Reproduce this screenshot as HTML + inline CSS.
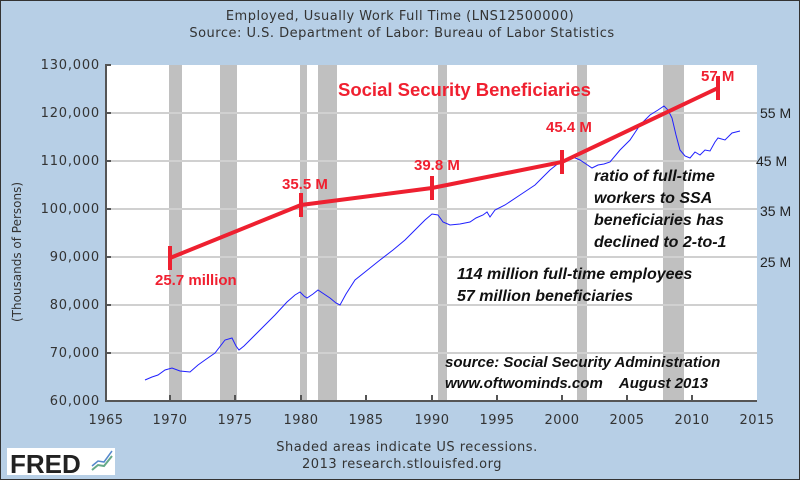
<!DOCTYPE html>
<html><head><meta charset="utf-8"><style>
body{margin:0;width:800px;height:480px;overflow:hidden;background:#b7cfe6}
svg{display:block}
.t{font-family:"DejaVu Sans",sans-serif;font-size:13px;fill:#333;letter-spacing:0.5px}
.a{font-family:"Liberation Sans",sans-serif;font-style:italic;font-weight:bold;font-size:16px;fill:#111}
.r{font-family:"Liberation Sans",sans-serif;font-weight:bold;fill:#f02030}
</style></head><body>
<svg width="800" height="480" viewBox="0 0 800 480">
<rect x="0.5" y="0.5" width="799" height="479" fill="#b7cfe6" stroke="#333"/>
<text class="t" x="400" y="20" text-anchor="middle">Employed, Usually Work Full Time (LNS12500000)</text>
<text class="t" x="402" y="37" text-anchor="middle">Source: U.S. Department of Labor: Bureau of Labor Statistics</text>
<rect x="106" y="65" width="651" height="336" fill="#fff"/>
<g fill="#c0c0c0">
<rect x="169" y="65" width="13" height="336"/><rect x="220" y="65" width="17" height="336"/>
<rect x="300" y="65" width="7" height="336"/><rect x="318" y="65" width="19" height="336"/>
<rect x="438" y="65" width="9" height="336"/><rect x="577" y="65" width="10" height="336"/>
<rect x="663" y="65" width="21" height="336"/>
</g>
<g stroke="#d0d0d0" stroke-width="2">
<line x1="106" y1="113" x2="757" y2="113"/><line x1="106" y1="161" x2="757" y2="161"/>
<line x1="106" y1="209" x2="757" y2="209"/><line x1="106" y1="257" x2="757" y2="257"/>
<line x1="106" y1="305" x2="757" y2="305"/><line x1="106" y1="353" x2="757" y2="353"/>
</g>
<g stroke="#555" stroke-width="2">
<line x1="106" y1="64" x2="106" y2="402"/><line x1="105" y1="401" x2="757" y2="401"/>
<line x1="106" y1="65" x2="111" y2="65"/><line x1="106" y1="113" x2="111" y2="113"/><line x1="106" y1="161" x2="111" y2="161"/><line x1="106" y1="209" x2="111" y2="209"/><line x1="106" y1="257" x2="111" y2="257"/><line x1="106" y1="305" x2="111" y2="305"/><line x1="106" y1="353" x2="111" y2="353"/>
<line x1="170" y1="395" x2="170" y2="401"/><line x1="235" y1="395" x2="235" y2="401"/><line x1="301" y1="395" x2="301" y2="401"/><line x1="366" y1="395" x2="366" y2="401"/><line x1="432" y1="395" x2="432" y2="401"/><line x1="497" y1="395" x2="497" y2="401"/><line x1="562" y1="395" x2="562" y2="401"/><line x1="627" y1="395" x2="627" y2="401"/><line x1="692" y1="395" x2="692" y2="401"/>
</g>
<g class="t" text-anchor="end" style="letter-spacing:0.8px">
<text x="100" y="69">130,000</text><text x="100" y="117">120,000</text><text x="100" y="165">110,000</text><text x="100" y="213">100,000</text><text x="100" y="261">90,000</text><text x="100" y="309">80,000</text><text x="100" y="357">70,000</text><text x="100" y="405">60,000</text>
</g>
<g class="t" text-anchor="middle">
<text x="106" y="424">1965</text><text x="170" y="424">1970</text><text x="235" y="424">1975</text><text x="301" y="424">1980</text><text x="366" y="424">1985</text><text x="432" y="424">1990</text><text x="497" y="424">1995</text><text x="562" y="424">2000</text><text x="627" y="424">2005</text><text x="692" y="424">2010</text><text x="757" y="424">2015</text>
</g>
<text class="t" transform="translate(21,252) rotate(-90)" text-anchor="middle" style="font-size:12px;letter-spacing:0">(Thousands of Persons)</text>
<text class="t" x="407" y="451" text-anchor="middle">Shaded areas indicate US recessions.</text>
<text class="t" x="402" y="468" text-anchor="middle">2013 research.stlouisfed.org</text>
<rect x="7" y="448" width="108" height="27" fill="#fff"/>
<text x="10" y="473" font-family="Liberation Sans,sans-serif" font-weight="bold" font-size="26" fill="#222">FRED</text>
<polyline points="92,470 98,465 104,466 112,456" fill="none" stroke="#6a8" stroke-width="2"/>
<polyline points="92,466 98,461 104,462 112,451" fill="none" stroke="#58c" stroke-width="1.5"/>
<polyline fill="none" stroke="#2020ff" stroke-width="1" points="145,380 152,377 158,375 165,370 172,368 180,371 190,372 198,365 205,360 215,353 225,340 232,338 236,346 239,350 244,346 250,340 262,328 275,315 287,302 295,295 300,292 304,296 307,298 313,294 318,290 324,294 330,298 336,303 340,305 346,294 355,280 365,272 380,260 393,250 405,240 415,230 425,220 432,214 438,215 443,222 450,225 460,224 470,222 476,218 483,215 487,212 490,217 495,210 505,205 520,195 535,185 550,170 560,162 568,158 573,157 580,160 586,164 592,168 598,165 604,164 610,162 620,150 630,140 640,125 650,115 658,110 664,106 668,110 672,118 676,135 680,150 685,156 690,158 695,152 700,155 705,150 710,151 715,142 718,138 725,140 732,133 740,131"/>
<g stroke="#ee2030" stroke-width="4" fill="none">
<polyline points="170,258 301,205 432,188 562,162 718,88"/>
<line x1="170" y1="246" x2="170" y2="270"/><line x1="301" y1="193" x2="301" y2="217"/><line x1="432" y1="176" x2="432" y2="200"/><line x1="562" y1="150" x2="562" y2="174"/><line x1="718" y1="76" x2="718" y2="100"/>
</g>
<text class="r" x="338" y="96" font-size="18.5">Social Security Beneficiaries</text>
<text class="r" x="155" y="285" font-size="15">25.7 million</text>
<text class="r" x="282" y="189" font-size="15">35.5 M</text>
<text class="r" x="414" y="170" font-size="15">39.8 M</text>
<text class="r" x="546" y="132" font-size="15">45.4 M</text>
<text class="r" x="701" y="81" font-size="15">57 M</text>
<g font-family="Liberation Sans,sans-serif" font-size="14" fill="#222">
<text x="760" y="118">55 M</text><text x="756" y="166">45 M</text><text x="760" y="216">35 M</text><text x="760" y="267">25 M</text>
</g>
<g class="a">
<text x="594" y="181">ratio of full-time</text>
<text x="594" y="203">workers to SSA</text>
<text x="594" y="225">beneficiaries has</text>
<text x="594" y="247">declined to 2-to-1</text>
<text x="457" y="279">114 million full-time employees</text>
<text x="457" y="301">57 million beneficiaries</text>
<text x="445" y="367" font-size="15">source: Social Security Administration</text>
<text x="445" y="388" font-size="15" xml:space="preserve">www.oftwominds.com    August 2013</text>
</g>
</svg>
</body></html>
